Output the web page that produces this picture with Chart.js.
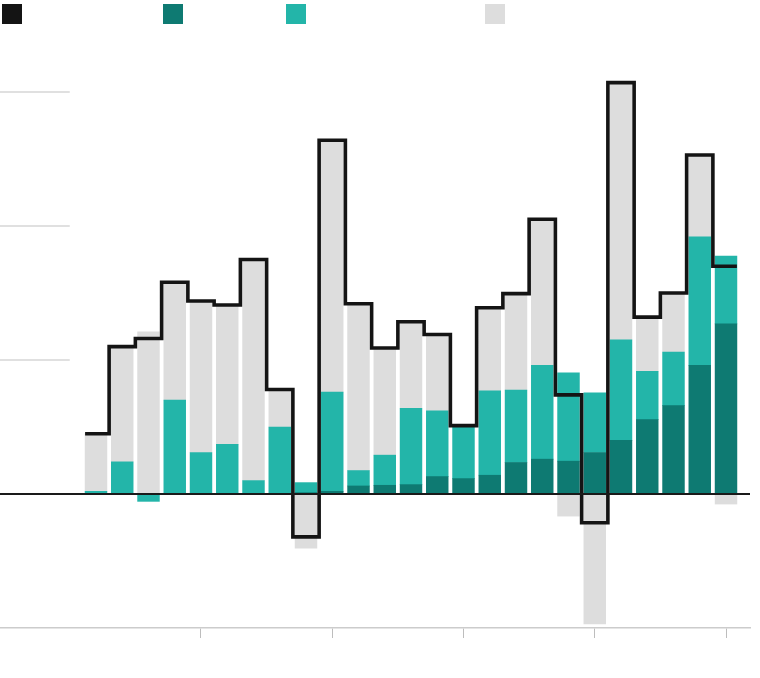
<!DOCTYPE html>
<html>
<head>
<meta charset="utf-8">
<script src="https://cdn.jsdelivr.net/npm/chart.js@4.4.1/dist/chart.umd.min.js"></script>
<style>
  html, body { margin: 0; padding: 0; background: #fff; }
  #wrap { position: relative; width: 760px; height: 678px; }
  #legend { position: absolute; left: 0; top: 0; width: 760px; height: 30px; }
  #legend span { position: absolute; top: 4px; width: 20px; height: 20px; }
</style>
</head>
<body>
<div id="wrap">
  <canvas id="chart" width="760" height="678"></canvas>
  <div id="legend"></div>
</div>
<script>
"use strict";

// values, one entry per bar (positive up, negative down)
const PERIODS   = [1, 2, 3, 4, 5, 6, 7, 8, 9, 10, 11, 12, 13, 14, 15, 16, 17, 18, 19, 20, 21, 22, 23, 24, 25];
const DARK_TEAL = [0, 0, 0, 0, 0, 0, 0, 0, 0.01, 0.02, 0.06, 0.065, 0.07, 0.13, 0.115, 0.14, 0.235, 0.26,
                   0.245, 0.31, 0.40, 0.555, 0.66, 0.96, 1.27];
const TEAL      = [0.02, 0.24, -0.055, 0.70, 0.31, 0.37, 0.10, 0.50, 0.075, 0.74, 0.115, 0.225, 0.57, 0.49,
                   0.39, 0.63, 0.54, 0.70, 0.66, 0.445, 0.75, 0.36, 0.40, 0.96, 0.505];
const GREY      = [0.43, 0.86, 1.21, 0.88, 1.13, 1.04, 1.65, 0.28, -0.405, 1.88, 1.245, 0.80, 0.645, 0.57,
                   0.005, 0.615, 0.72, 1.09, -0.165, -0.97, 1.92, 0.405, 0.44, 0.61, -0.075];
const TOTALS    = [0.45, 1.10, 1.16, 1.58, 1.44, 1.41, 1.75, 0.78, -0.32, 2.64, 1.42, 1.09, 1.285, 1.19,
                   0.51, 1.39, 1.495, 2.05, 0.74, -0.215, 3.07, 1.32, 1.50, 2.53, 1.70];
const X_TICKS = [5, 10, 15, 20, 25];
const GRID_VALUES = [1, 2, 3];

const COLORS = { total: "#141414", dark: "#0e7a72", teal: "#23b5a9", grey: "#dddddd" };

const $ = (id) => document.getElementById(id);

// legend swatches only (the reference carries no label text)
const LEGEND_X = [2, 163, 286, 485];
$("legend").innerHTML = [COLORS.total, COLORS.dark, COLORS.teal, COLORS.grey]
  .map((c, i) => `<span style="left:${LEGEND_X[i]}px;background:${c}"></span>`).join("");

const pts = (arr) => arr.map((v, i) => ({ x: PERIODS[i], y: v }));

// step line: each total held across its own bar, stepping in the gaps between bars
const HALF_BAR = 0.415;
const stepPts = TOTALS.map((v, i) => ({ x: i === 0 ? PERIODS[0] - HALF_BAR : PERIODS[i] - 0.5, y: v }));
stepPts.push({ x: PERIODS[PERIODS.length - 1] + HALF_BAR, y: TOTALS[TOTALS.length - 1] });

// short grid stubs on the left + the zero baseline across the whole plot
const guides = {
  id: "guides",
  beforeDatasetsDraw(chart) {
    const { ctx, chartArea: a, scales: { x, y } } = chart;
    ctx.save();
    ctx.strokeStyle = "#d6d6d6";
    ctx.lineWidth = 1.5;
    const end = x.getPixelForValue(0);
    GRID_VALUES.forEach((v) => {
      const py = y.getPixelForValue(v);
      ctx.beginPath(); ctx.moveTo(a.left, py); ctx.lineTo(end, py); ctx.stroke();
    });
    ctx.restore();
  },
  afterDatasetsDraw(chart) {
    const { ctx, chartArea: a, scales: { y } } = chart;
    const py = y.getPixelForValue(0);
    ctx.save();
    ctx.strokeStyle = "#1a1a1a";
    ctx.lineWidth = 2;
    ctx.beginPath(); ctx.moveTo(a.left, py); ctx.lineTo(a.right, py); ctx.stroke();
    ctx.restore();
  },
};

const bar = (data, color) => ({
  type: "bar", data: pts(data), backgroundColor: color, borderWidth: 0,
  stack: "parts", order: 1, barThickness: 21.8,
});

new Chart($("chart"), {
  data: {
    datasets: [
      { type: "line", data: stepPts, stack: "total", order: 0, stepped: "before",
        borderColor: COLORS.total, borderWidth: 3.6, pointRadius: 0, fill: false,
        borderJoinStyle: "miter", borderCapStyle: "butt", tension: 0 },
      bar(DARK_TEAL, COLORS.dark),
      bar(TEAL, COLORS.teal),
      bar(GREY, COLORS.grey),
    ],
  },
  options: {
    responsive: false, animation: false,
    layout: { padding: { top: 25, bottom: 40, left: 0, right: 10 } },
    plugins: { legend: { display: false }, tooltip: { enabled: false } },
    scales: {
      x: {
        type: "linear", min: -2.657, max: 25.914, stacked: true, offset: false, bounds: "data",
        afterBuildTicks: (s) => { s.ticks = X_TICKS.map((v) => ({ value: v })); },
        ticks: { display: false },
        grid: { offset: false, drawOnChartArea: false, drawTicks: true, tickLength: 10,
                color: "#bdbdbd", lineWidth: 1 },
        border: { display: true, color: "#cccccc", width: 1.5 },
      },
      y: { display: false, stacked: true, min: -1, max: 3.5 },
    },
  },
  plugins: [guides],
});
</script>
</body>
</html>
